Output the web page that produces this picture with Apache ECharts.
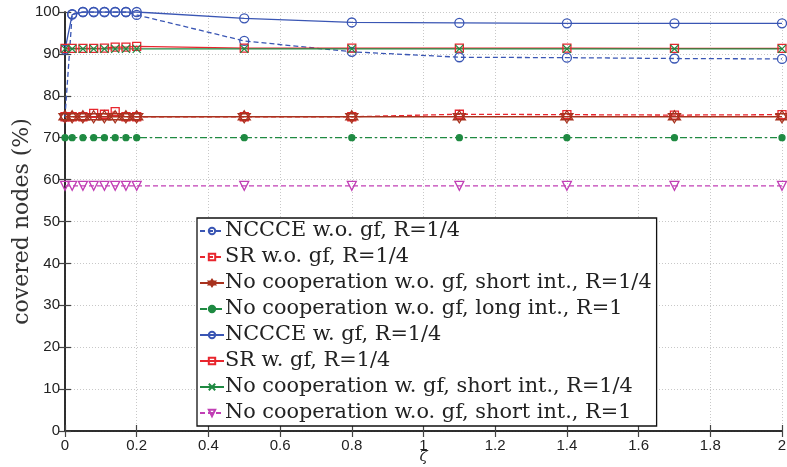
<!DOCTYPE html>
<html><head><meta charset="utf-8">
<script src="https://cdn.jsdelivr.net/npm/echarts@6/dist/echarts.min.js"></script>
<style>html,body{margin:0;padding:0;background:#fff}#c{width:787px;height:467px}</style>
</head><body><div id="c"></div>
<script>
const zeta = [0, 0.02, 0.05, 0.08, 0.11, 0.14, 0.17, 0.2, 0.5, 0.8, 1.1, 1.4, 1.7, 2];
const nccceWo   = [75, 99.5, 100, 100, 100, 100, 100, 99.3, 93.1, 90.5, 89.2, 89.1, 88.9, 88.8];
const srWo      = [75, 75, 75, 75.8, 75.6, 76.2, 75, 75, 75, 75, 75.6, 75.5, 75.4, 75.5];
const noCoopShortWo = [75, 75, 75, 75, 75, 75, 75, 75, 75, 75, 75, 75, 75, 75];
const noCoopLongWo  = [70, 70, 70, 70, 70, 70, 70, 70, 70, 70, 70, 70, 70, 70];
const nccceW    = [91, 99.4, 100, 100, 100, 100, 100, 100, 98.5, 97.5, 97.4, 97.3, 97.3, 97.3];
const srW       = [91.3, 91.3, 91.3, 91.3, 91.4, 91.6, 91.6, 91.8, 91.4, 91.4, 91.4, 91.4, 91.3, 91.3];
const noCoopShortW  = [91.2, 91.2, 91.2, 91.2, 91.2, 91.2, 91.2, 91.2, 91.2, 91.2, 91.2, 91.2, 91.2, 91.2];
const noCoopShortR1 = [58.5, 58.5, 58.5, 58.5, 58.5, 58.5, 58.5, 58.5, 58.5, 58.5, 58.5, 58.5, 58.5, 58.5];
const names = [
  'NCCCE w.o. gf, R=1/4',
  'SR w.o. gf, R=1/4',
  'No cooperation w.o. gf, short int., R=1/4',
  'No cooperation w.o. gf, long int., R=1',
  'NCCCE w. gf, R=1/4',
  'SR w. gf, R=1/4',
  'No cooperation w. gf, short int., R=1/4',
  'No cooperation w.o. gf, short int., R=1'
];
const yTicks = [0,10,20,30,40,50,60,70,80,90,100];

const BLUE='#3a56b4', RED='#e8262e', BROWN='#a8321e', GREEN='#1f8a42', MAG='#c13fb5';
const HEX='path://M0,-10L8.66,5L-8.66,5Z M0,10L8.66,-5L-8.66,-5Z';
const XM='path://M-5,-5L5,5M5,-5L-5,5';
const TRI='path://M-5,-4L5,-4L0,5Z';

function pairs(v){ return zeta.map((x,i)=>[x,v[i]]); }
function mk(name, data, color, lineType, symbol, size, filled){
  return {
    name, type:'line', data:pairs(data), symbol, symbolSize:size,
    showSymbol:true,
    lineStyle:{color, width:1.3, type:lineType},
    itemStyle:{color: filled?color:'none', borderColor:color, borderWidth:1.3},
    emphasis:{disabled:true}, animation:false, z:3
  };
}
const series = [
  mk(names[0], nccceWo, BLUE, [5,3], 'circle', 9, false),
  mk(names[1], srWo, RED, [5,3], 'rect', 8, false),
  mk(names[2], noCoopShortWo, BROWN, 'solid', HEX, 12, false),
  mk(names[3], noCoopLongWo, GREEN, [7,3,2,3], 'circle', 6, true),
  mk(names[4], nccceW, BLUE, 'solid', 'circle', 9, false),
  mk(names[5], srW, RED, 'solid', 'rect', 8, false),
  mk(names[6], noCoopShortW, GREEN, 'solid', XM, 8, false),
  mk(names[7], noCoopShortR1, MAG, [5,3], TRI, 9, false)
];

const axisCommon = {
  min:0, axisLine:{show:true, lineStyle:{color:'#222', width:1.5}},
  axisTick:{show:true, inside:true, length:6, lineStyle:{color:'#444', width:1.2}},
  axisLabel:{color:'#222', fontFamily:'Liberation Sans', fontSize:15},
  splitLine:{show:false}
};
const option = {
  backgroundColor:'#fff',
  animation:false,
  grid:{left:65, right:5, top:12, bottom:36, outerBoundsMode:'none', containLabel:false},
  xAxis:[
    Object.assign({}, axisCommon, {type:'value', max:2, interval:0.2, position:'bottom',
      name:'ζ', nameLocation:'middle', nameGap:19, nameMoveOverlap:false,
      nameTextStyle:{fontFamily:'DejaVu Serif', fontSize:15, color:'#222', fontStyle:'italic'},
      axisLabel:Object.assign({}, axisCommon.axisLabel, {margin:7, formatter:v=>String(+v.toFixed(1))}),
      splitLine:{show:true, lineStyle:{color:'#c8c8c8', type:[1,2], width:1}}}),
    Object.assign({}, axisCommon, {type:'value', max:2, interval:0.2, position:'top',
      axisLabel:{show:false}})
  ],
  yAxis:[
    Object.assign({}, axisCommon, {type:'value', max:100, interval:10, position:'left',
      name:'covered nodes (%)', nameLocation:'middle', nameGap:32, nameMoveOverlap:false,
      nameTextStyle:{fontFamily:'DejaVu Serif', fontSize:22, color:'#333'},
      axisLabel:Object.assign({}, axisCommon.axisLabel, {margin:5, formatter:v=>String(yTicks[Math.round(v/10)])}),
      splitLine:{show:true, lineStyle:{color:'#c8c8c8', type:[1,2], width:1}}}),
    Object.assign({}, axisCommon, {type:'value', max:100, interval:10, position:'right',
      axisLabel:{show:false}})
  ],
  legend:{
    orient:'vertical', left:197, top:218, data:names,
    backgroundColor:'#fff', borderColor:'#111', borderWidth:1.3, borderRadius:0,
    padding:[2,5,2,2], itemGap:4, itemWidth:24, itemHeight:8,
    textStyle:{fontFamily:'DejaVu Serif', fontSize:20.8, lineHeight:22, color:'#222', padding:[0,0,0,-4]},
    selectedMode:false
  },
  series
};
const chart = echarts.init(document.getElementById('c'), null, {renderer:'canvas'});
chart.setOption(option);
</script>
</body></html>
